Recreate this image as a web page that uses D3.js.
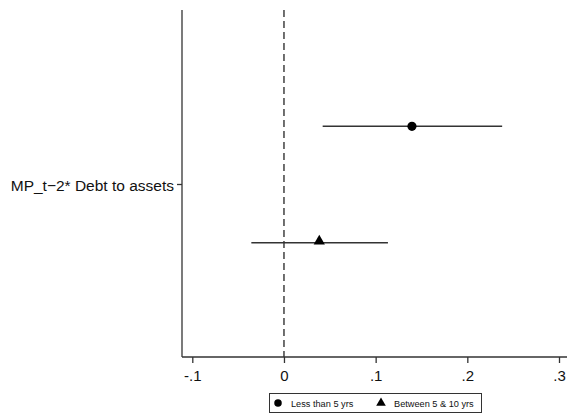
<!DOCTYPE html>
<html>
<head>
<meta charset="utf-8">
<script src="https://cdn.jsdelivr.net/npm/d3@7"></script>
<style>
  html, body { margin: 0; padding: 0; background: #fff; }
  svg { display: block; font-family: "Liberation Sans", Arial, sans-serif; }
</style>
</head>
<body>
<svg id="chart" width="567" height="416"></svg>
<script>
// Coefficient plot data
const categoryLabel = "MP_t\u22122* Debt to assets";
const seriesNames = ["Less than 5 yrs", "Between 5 & 10 yrs"];
const seriesSymbols = ["circle", "triangle"];
const estimates = [0.1396, 0.0385];
const ciLow = [0.0422, -0.0356];
const ciHigh = [0.2380, 0.1134];
const xTicks = [-0.1, 0, 0.1, 0.2, 0.3];
const xTickLabels = ["-.1", "0", ".1", ".2", ".3"];

const svg = d3.select("#chart");
const plot = { left: 182, right: 567, top: 10, bottom: 357 };

const x = d3.scaleLinear().domain([-0.1, 0.3]).range([192.3, 559]);
// rows: series i sits at position i+1, the category label at 1.5
const y = d3.scaleLinear().domain([1, 2]).range([126.3, 242.7]);

const ink = "#333";

// left axis
svg.append("line")
  .attr("x1", plot.left).attr("x2", plot.left)
  .attr("y1", plot.top).attr("y2", plot.bottom)
  .attr("stroke", ink).attr("stroke-width", 1.3);

// category tick + label
svg.append("line")
  .attr("x1", plot.left - 5).attr("x2", plot.left)
  .attr("y1", y(1.5)).attr("y2", y(1.5))
  .attr("stroke", ink).attr("stroke-width", 1.3);
svg.append("text")
  .attr("x", plot.left - 8).attr("y", y(1.5) + 1)
  .attr("text-anchor", "end").attr("dominant-baseline", "central")
  .attr("font-size", 15.5).attr("fill", "#111")
  .text(categoryLabel);

// bottom axis
const xAxis = d3.axisBottom(x)
  .tickValues(xTicks)
  .tickFormat((d, i) => xTickLabels[i])
  .tickSize(6).tickSizeOuter(0).tickPadding(7);
const gx = svg.append("g")
  .attr("transform", `translate(0,${plot.bottom})`)
  .call(xAxis);
gx.select(".domain").remove();
gx.append("line")
  .attr("x1", plot.left).attr("x2", plot.right)
  .attr("stroke", ink).attr("stroke-width", 1.3);
gx.selectAll(".tick line").attr("stroke", ink).attr("stroke-width", 1.3);
gx.selectAll(".tick text")
  .attr("font-size", 15).attr("fill", "#111")
  .attr("font-family", "Liberation Sans, Arial, sans-serif");

// zero reference line
svg.append("line")
  .attr("x1", x(0)).attr("x2", x(0))
  .attr("y1", plot.top).attr("y2", plot.bottom)
  .attr("stroke", ink).attr("stroke-width", 1.4)
  .attr("stroke-dasharray", "7,4");

// confidence intervals
svg.selectAll(".ci").data(estimates).join("line")
  .attr("class", "ci")
  .attr("x1", (d, i) => x(ciLow[i])).attr("x2", (d, i) => x(ciHigh[i]))
  .attr("y1", (d, i) => y(i + 1)).attr("y2", (d, i) => y(i + 1))
  .attr("stroke", ink).attr("stroke-width", 1.5);

// point estimates
const symType = { circle: d3.symbolCircle, triangle: d3.symbolTriangle };
const symSize = { circle: 66, triangle: 55 };
svg.selectAll(".pt").data(estimates).join("path")
  .attr("class", "pt")
  .attr("d", (d, i) => d3.symbol().type(symType[seriesSymbols[i]]).size(symSize[seriesSymbols[i]])())
  .attr("transform", (d, i) => `translate(${x(d)},${y(i + 1) - (seriesSymbols[i] === "triangle" ? 1.5 : 0)})`)
  .attr("fill", "#000");

// legend
const legend = svg.append("g");
legend.append("rect")
  .attr("x", 269.5).attr("y", 393.5).attr("width", 212).attr("height", 19)
  .attr("fill", "#fff").attr("stroke", ink).attr("stroke-width", 1);
const legendX = [278, 381];
seriesNames.forEach((name, i) => {
  const sym = seriesSymbols[i];
  legend.append("path")
    .attr("d", d3.symbol().type(symType[sym]).size(sym === "circle" ? 44 : 40)())
    .attr("transform", `translate(${legendX[i]},${403})`)
    .attr("fill", "#000");
  legend.append("text")
    .attr("x", legendX[i] + 13).attr("y", 403.5)
    .attr("dominant-baseline", "central")
    .attr("font-size", 9.2).attr("fill", "#111")
    .text(name);
});
</script>
</body>
</html>
